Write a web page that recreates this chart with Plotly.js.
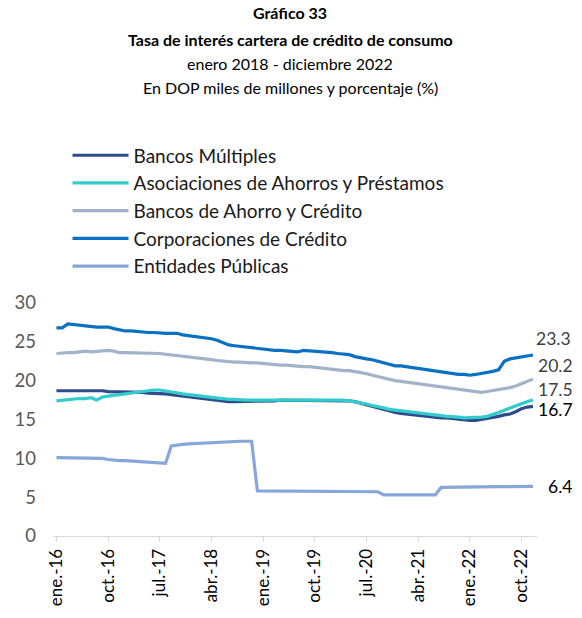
<!DOCTYPE html>
<html><head><meta charset="utf-8">
<script src="https://cdn.plot.ly/plotly-3.0.1.min.js"></script>
<style>html,body{margin:0;padding:0;background:#fff}#chart{width:582px;height:618px}</style>
</head><body><div id="chart"></div>
<script>
const monthNames = ["ene.","feb.","mar.","abr.","may.","jun.","jul.","ago.","sep.","oct.","nov.","dic."];
const years = ["16","17","18","19","20","21","22"];
const categories = [];
years.forEach(y => monthNames.forEach(m => categories.push(m + "-" + y)));
const tickLabels = ["ene.-16","oct.-16","jul.-17","abr.-18","ene.-19","oct.-19","jul.-20","abr.-21","ene.-22","oct.-22"];

const bancosMultiples = [18.7,18.7,18.7,18.8,18.8,18.7,18.7,18.7,18.7,18.6,18.6,18.6,18.5,18.5,18.5,18.5,18.4,18.4,18.4,18.3,18.2,18.1,18.0,17.9,17.9,17.8,17.7,17.6,17.5,17.4,17.3,17.3,17.3,17.3,17.4,17.4,17.4,17.4,17.4,17.5,17.5,17.5,17.5,17.5,17.5,17.5,17.5,17.5,17.4,17.4,17.4,17.4,17.3,17.1,16.9,16.6,16.4,16.2,16.0,15.9,15.8,15.7,15.6,15.5,15.4,15.4,15.3,15.2,15.2,15.1,15.1,15.0,14.9,14.9,15.0,15.1,15.3,15.4,15.6,15.7,16.0,16.4,16.6,16.7];
const asociaciones = [17.4,17.5,17.6,17.6,17.7,17.7,17.8,17.5,17.9,18.0,18.1,18.2,18.3,18.5,18.6,18.7,18.7,18.8,18.8,18.7,18.5,18.4,18.3,18.2,18.1,18.0,18.0,17.9,17.8,17.7,17.6,17.6,17.5,17.5,17.5,17.5,17.5,17.5,17.5,17.6,17.6,17.6,17.6,17.6,17.5,17.5,17.5,17.5,17.5,17.5,17.5,17.4,17.3,17.1,17.0,16.8,16.7,16.5,16.3,16.2,16.1,16.0,15.9,15.8,15.7,15.7,15.6,15.5,15.4,15.4,15.3,15.2,15.2,15.2,15.3,15.4,15.6,15.9,16.2,16.5,16.8,17.1,17.3,17.5];
const bancosAhorro = [23.5,23.6,23.6,23.6,23.7,23.8,23.7,23.8,23.8,23.9,23.8,23.6,23.6,23.6,23.5,23.5,23.5,23.5,23.5,23.4,23.3,23.3,23.1,23.0,22.9,22.9,22.8,22.7,22.6,22.5,22.5,22.4,22.4,22.3,22.3,22.3,22.2,22.2,22.1,22.0,22.0,21.9,21.8,21.8,21.8,21.7,21.6,21.5,21.4,21.4,21.3,21.3,21.2,21.0,20.9,20.7,20.5,20.3,20.1,20.0,19.9,19.8,19.7,19.6,19.5,19.3,19.2,19.1,19.0,18.9,18.8,18.7,18.6,18.5,18.5,18.6,18.7,18.8,18.9,19.1,19.3,19.6,19.9,20.2];
const corporaciones = [26.8,26.8,27.3,27.2,27.1,27.0,26.9,26.9,26.9,26.9,26.7,26.5,26.4,26.4,26.3,26.3,26.2,26.2,26.1,26.1,26.1,26.1,25.9,25.8,25.7,25.7,25.5,25.4,25.2,24.9,24.6,24.5,24.4,24.3,24.2,24.1,24.0,24.0,23.9,23.9,23.8,23.7,23.7,23.9,23.85,23.8,23.7,23.65,23.6,23.5,23.4,23.35,23.1,22.9,22.8,22.7,22.5,22.3,22.1,21.9,21.9,21.8,21.6,21.5,21.4,21.3,21.2,21.1,21.0,20.9,20.8,20.8,20.7,20.8,20.9,21.0,21.2,21.4,22.5,22.8,22.9,23.0,23.2,23.3];
const entidades = [10.1,10.1,10.05,10.05,10.0,10.0,10.0,10.0,10.0,9.85,9.75,9.7,9.7,9.65,9.65,9.6,9.6,9.55,9.4,9.35,11.6,11.75,11.8,11.85,11.9,11.95,12.0,12.05,12.1,12.1,12.15,12.15,12.2,12.2,12.2,5.8,5.8,5.8,5.8,5.8,5.78,5.78,5.76,5.76,5.75,5.75,5.74,5.73,5.72,5.72,5.7,5.7,5.7,5.7,5.7,5.7,5.7,5.3,5.3,5.3,5.3,5.3,5.3,5.3,5.3,5.3,5.3,6.25,6.27,6.28,6.29,6.3,6.31,6.32,6.33,6.34,6.35,6.36,6.36,6.37,6.38,6.38,6.39,6.4];

const seriesNames = ["Bancos Múltiples","Asociaciones de Ahorros y Préstamos","Bancos de Ahorro y Crédito","Corporaciones de Crédito","Entidades Públicas"];
const seriesData = [bancosMultiples, asociaciones, bancosAhorro, corporaciones, entidades];
const seriesColors = ["#2E4B8C","#33CCCC","#A2B3C9","#0A70C2","#87A7DA"];
const endLabels = ["16.7","17.5","20.2","23.3","6.4"];
const endLabelColors = ["#000000","#404040","#404040","#404040","#000000"];
const endLabelShift = [[3,-3],[3,11],[3,14],[1,17],[13,0]];

const FONT = "Lato, 'Noto Sans', sans-serif";

const traces = seriesData.map((d, i) => ({
  type: "scatter", mode: "lines", name: seriesNames[i],
  x: categories, y: d,
  line: {color: seriesColors[i], width: 3.2},
  hoverinfo: "skip"
}));

const annotations = seriesData.map((d, i) => ({
  x: categories[d.length - 1], y: d[d.length - 1],
  xref: "x", yref: "y", text: endLabels[i], showarrow: false,
  xanchor: "left", yanchor: "middle",
  xshift: endLabelShift[i][0], yshift: endLabelShift[i][1],
  font: {family: FONT, size: 17.5, color: endLabelColors[i]}
}));

const titleLines = [
  ["<b>Gráfico 33</b>", 13],
  ["<b>Tasa de interés cartera de crédito de consumo</b>", 40],
  ["enero 2018 - diciembre 2022", 64],
  ["En DOP miles de millones y porcentaje (%)", 88]
];
titleLines.forEach(t => annotations.push({
  text: t[0], xref: "paper", yref: "paper", x: 0.49,
  y: (535.8 - t[1]) / 232.5, xanchor: "center", yanchor: "middle", showarrow: false,
  font: {family: FONT, size: 16, color: "#000"}
}));

const layout = {
  width: 582, height: 618,
  margin: {l: 53, r: 45, t: 303, b: 82},
  paper_bgcolor: "#fff", plot_bgcolor: "#fff",
  showlegend: true,
  legend: {
    x: 0.03, y: 1.715, xanchor: "left", yanchor: "top",
    font: {family: FONT, size: 19, color: "#1a1a1a"},
    bgcolor: "rgba(0,0,0,0)", tracegroupgap: 0, itemwidth: 56
  },
  xaxis: {
    type: "category", range: [-0.6, 83.7],
    tickmode: "array", tickvals: tickLabels, ticktext: tickLabels,
    tickangle: -90, ticks: "outside", ticklen: 5, tickcolor: "#D9D9D9",
    showline: true, linecolor: "#D9D9D9", linewidth: 1,
    showgrid: false, zeroline: false,
    tickfont: {family: FONT, size: 17, color: "#000"}
  },
  yaxis: {
    range: [0, 30], tickvals: [0,5,10,15,20,25,30],
    showgrid: false, zeroline: false, showline: false, ticks: "",
    tickfont: {family: FONT, size: 18.5, color: "#595959"},
    ticklabelstandoff: 16
  },
  annotations: annotations
};

Plotly.newPlot("chart", traces, layout, {displayModeBar: false, staticPlot: true});
</script>
</body></html>
